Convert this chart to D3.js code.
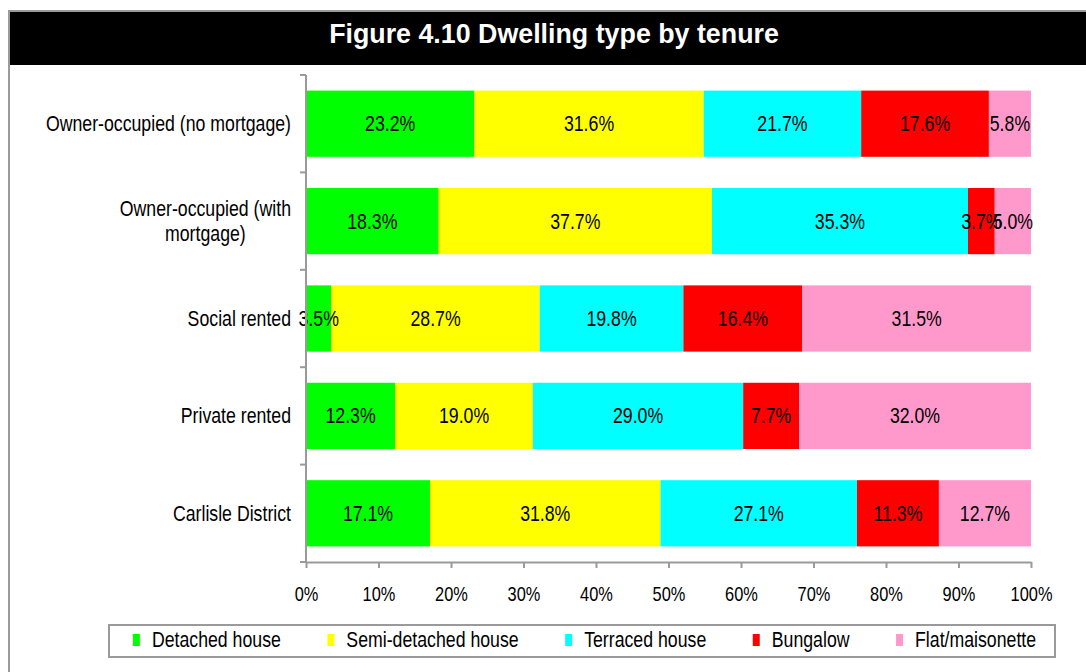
<!DOCTYPE html>
<html><head><meta charset="utf-8">
<script src="https://cdn.jsdelivr.net/npm/d3@7"></script>
<style>body{margin:0;background:#fff}svg{display:block}</style>
</head><body>
<script>
const title = "Figure 4.10 Dwelling type by tenure";
const categories = ["Owner-occupied (no mortgage)", "Owner-occupied (with mortgage)", "Social rented", "Private rented", "Carlisle District"];
const seriesNames = ["Detached house", "Semi-detached house", "Terraced house", "Bungalow", "Flat/maisonette"];
const detached = [23.2, 18.3, 3.5, 12.3, 17.1];
const semiDetached = [31.6, 37.7, 28.7, 19.0, 31.8];
const terraced = [21.7, 35.3, 19.8, 29.0, 27.1];
const bungalow = [17.6, 3.7, 16.4, 7.7, 11.3];
const flat = [5.8, 5.0, 31.5, 32.0, 12.7];
const tickValues = [0, 0.1, 0.2, 0.3, 0.4, 0.5, 0.6, 0.7, 0.8, 0.9, 1.0];
const colors = ["#00ff00", "#ffff00", "#00ffff", "#ff0000", "#ff99cc"];

const seriesValues = [detached, semiDetached, terraced, bungalow, flat];
const rows = categories.map((c, i) => {
  const o = {category: c};
  seriesNames.forEach((s, j) => o[s] = seriesValues[j][i]);
  return o;
});

function hasFont(name) {
  const c = document.createElement('canvas').getContext('2d');
  const s = 'Owner-occupied 0123456789 Mmwx';
  c.font = '40px monospace';
  const a = c.measureText(s).width;
  c.font = `40px '${name}', monospace`;
  const b = c.measureText(s).width;
  return Math.abs(a - b) > 1;
}
const narrowAvail = hasFont('Liberation Sans Narrow');
const FAM = narrowAvail ? "'Liberation Sans Narrow','Arial Narrow',sans-serif" : "'Liberation Sans',Arial,sans-serif";
const SX = narrowAvail ? 1 : 0.82;
const FS = 21.6;
function ntext(parent, x, y, str, size, anchor) {
  return parent.append('text')
    .attr('transform', `translate(${x},${y}) scale(${SX},1)`)
    .attr('font-family', FAM).attr('font-size', size)
    .attr('text-anchor', anchor).attr('fill', '#000').text(str);
}

const W = 1086, H = 672;
const svg = d3.select('body').append('svg').attr('width', W).attr('height', H);
const grey = '#9a9a9a';

// outer frame and title band
svg.append('rect').attr('x', 9).attr('y', 11).attr('width', W + 20).attr('height', H + 20)
  .attr('fill', '#fff').attr('stroke', grey).attr('stroke-width', 2);
svg.append('rect').attr('x', 10).attr('y', 12).attr('width', W).attr('height', 53).attr('fill', '#000');
svg.append('text').attr('x', 554).attr('y', 43).attr('text-anchor', 'middle')
  .attr('font-family', "'Liberation Sans',Arial,sans-serif").attr('font-weight', 'bold')
  .attr('font-size', 26.8).attr('fill', '#fff').text(title);

const x = d3.scaleLinear().domain([0, 1]).range([306, 1031]);
const y = d3.scaleBand().domain(categories).range([75, 562]).paddingInner(0.32).paddingOuter(0.16);

const stack = d3.stack().keys(seriesNames).offset(d3.stackOffsetExpand);
const stacked = stack(rows);

const g = svg.append('g');
stacked.forEach((layer, j) => {
  g.append('g').selectAll('rect').data(layer).join('rect')
    .attr('x', d => x(d[0])).attr('width', d => x(d[1]) - x(d[0]))
    .attr('y', d => y(d.data.category)).attr('height', y.bandwidth())
    .attr('fill', colors[j]);
});
const fmt = d3.format('.1f');
stacked.forEach((layer, j) => {
  layer.forEach(d => {
    const cx = (x(d[0]) + x(d[1])) / 2;
    const cy = y(d.data.category) + y.bandwidth() / 2 + 7.5;
    ntext(g, cx, cy, fmt(d.data[layer.key]) + '%', FS, 'middle');
  });
});

// x axis
const xAxis = svg.append('g').attr('transform', 'translate(0,562)')
  .call(d3.axisBottom(x).tickValues(tickValues).tickFormat(d3.format('.0%')).tickSize(6).tickSizeOuter(0));
xAxis.select('.domain').attr('stroke', grey).attr('stroke-width', 2);
xAxis.selectAll('.tick line').attr('stroke', grey).attr('stroke-width', 2);
xAxis.selectAll('.tick text').attr('y', 39).attr('dy', 0).attr('fill', '#000')
  .attr('font-family', FAM).attr('font-size', 20).attr('transform', `scale(${SX},1)`);

// y axis line with ticks at category boundaries
svg.append('line').attr('x1', 306).attr('x2', 306).attr('y1', y.range()[0]).attr('y2', 563)
  .attr('stroke', grey).attr('stroke-width', 2);
const bounds = categories.map(c => y(c) - y.paddingInner() * y.step() / 2).concat([y.range()[1]]);
svg.append('g').selectAll('line').data(bounds).join('line')
  .attr('x1', 300).attr('x2', 306).attr('y1', d => d).attr('y2', d => d)
  .attr('stroke', grey).attr('stroke-width', 2);

// category labels (wrapped when too wide)
const labG = svg.append('g');
const maxLabelW = 250;
function measure(s) {
  const tt = ntext(labG, 0, 0, s, FS, 'start');
  const w = tt.node().getComputedTextLength() * SX;
  tt.remove();
  return w;
}
categories.forEach(c => {
  const cy = y(c) + y.bandwidth() / 2 + 7.5;
  if (measure(c) <= maxLabelW) {
    ntext(labG, 291, cy, c, FS, 'end');
    return;
  }
  const words = c.split(' ');
  const lines = [];
  let cur = [];
  words.forEach(wd => {
    const test = cur.concat([wd]).join(' ');
    if (measure(test) > maxLabelW && cur.length) { lines.push(cur.join(' ')); cur = [wd]; } else cur.push(wd);
  });
  lines.push(cur.join(' '));
  const maxW = d3.max(lines, measure);
  const lh = 25;
  const cx = 291 - maxW / 2;
  lines.forEach((l, i) => {
    ntext(labG, cx, cy + (i - (lines.length - 1) / 2) * lh, l, FS, 'middle');
  });
});

// legend
svg.append('rect').attr('x', 109).attr('y', 625).attr('width', 946).attr('height', 32)
  .attr('fill', '#fff').attr('stroke', grey).attr('stroke-width', 2);
const legG = svg.append('g');
const widths = seriesNames.map(s => {
  const tt = ntext(legG, 0, 0, s, FS, 'start');
  const w = tt.node().getComputedTextLength() * SX;
  tt.remove();
  return w;
});
const markerW = 7, markerGap = 12, itemGap = 46.5;
const total = d3.sum(widths) + seriesNames.length * (markerW + markerGap) + itemGap * (seriesNames.length - 1);
let lx = 584.5 - total / 2;
seriesNames.forEach((s, j) => {
  legG.append('rect').attr('x', lx).attr('y', 634).attr('width', markerW).attr('height', 12).attr('fill', colors[j]);
  ntext(legG, lx + markerW + markerGap, 647, s, FS, 'start');
  lx += markerW + markerGap + widths[j] + itemGap;
});
</script>
</body></html>
